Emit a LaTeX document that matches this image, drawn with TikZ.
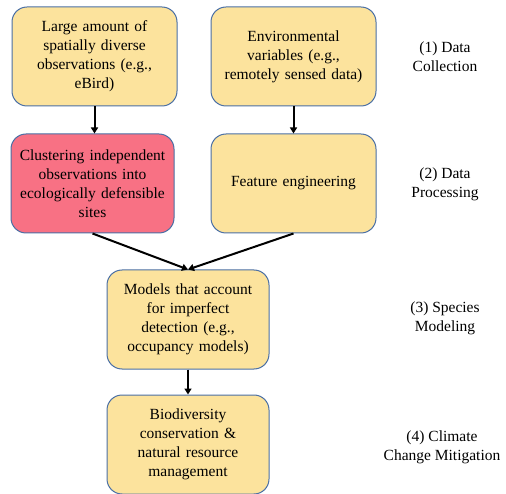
\documentclass[tikz,border=0pt]{standalone}
\usepackage{fontspec}
\setmainfont{Liberation Serif}
\usetikzlibrary{arrows.meta}
\definecolor{boxyellow}{HTML}{FCE39D}
\definecolor{boxpink}{HTML}{F87184}
\definecolor{boxline}{HTML}{4A6FA5}

\begin{document}
\begin{tikzpicture}[x=1pt,y=-1pt,>={Triangle[length=6pt,width=7pt]},
  font=\rmfamily\fontsize{15.5}{19}\selectfont,
  stage/.style={draw=boxline,line width=1pt,fill=boxyellow,rounded corners=15pt,
    minimum width=165pt,minimum height=99pt,text width=158pt,align=center,inner sep=0pt},
  level/.style={align=center},
  link/.style={->,line width=2pt}]
 \useasboundingbox (0,0) rectangle (506,494);

 % Data collection
 \node[stage] (obs) at (94.5,56.5) {Large amount of\\spatially diverse\\observations (e.g.,\\eBird)};
 \node[stage] (env) at (293.5,56.5) {Environmental\\variables (e.g.,\\remotely sensed data)};

 % Data processing
 \node[stage,fill=boxpink,minimum width=163pt] (clust) at (92.5,183.5) {Clustering independent\\observations into\\ecologically defensible\\sites};
 \node[stage] (feat) at (293.5,183.5) {Feature engineering};

 % Modeling
 \node[stage,minimum width=162pt] (occ) at (188,319.5) {Models that account\\for imperfect\\detection (e.g.,\\occupancy models)};
 \node[stage,minimum width=162pt] (bio) at (188,444.5) {Biodiversity\\conservation \&\\natural resource\\management};

 % Stage labels
 \node[level] (l1) at (445,57) {(1) Data\\Collection};
 \node[level] (l2) at (445,184) {(2) Data\\Processing};
 \node[level] (l3) at (445,318) {(3) Species\\Modeling};
 \node[level] (l4) at (442,447) {(4) Climate\\Change Mitigation};

 % Arrows
 \draw[link] (obs.south) -- (clust.north -| obs.south);
 \draw[link] (env.south) -- (feat.north);
 \draw[link] (clust.south) -- (occ.north);
 \draw[link] (feat.south) -- (occ.north);
 \draw[link] (occ.south) -- (bio.north);
\end{tikzpicture}
\end{document}
